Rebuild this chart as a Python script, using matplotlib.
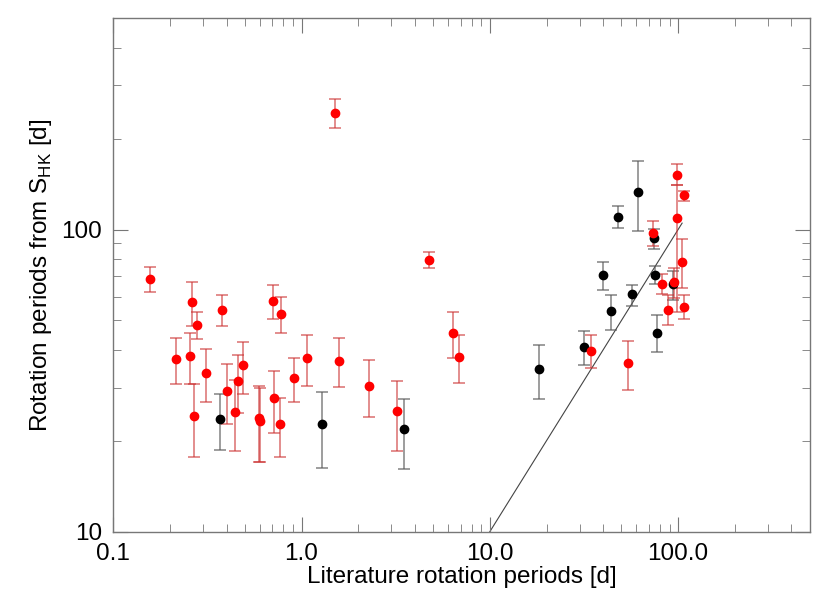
import matplotlib
matplotlib.use("Agg")
import matplotlib.pyplot as plt
import numpy as np
from matplotlib.ticker import FixedLocator, FixedFormatter, NullFormatter

# ---- data ----
red_x = [0.157, 0.263, 0.279, 0.378, 0.708, 0.777, 0.215, 0.257, 0.268, 0.311,
         0.403, 0.458, 0.443, 0.490, 0.592, 0.601, 0.714, 0.765, 0.915, 1.072,
         1.58, 2.28, 1.50, 3.21, 4.77, 6.39, 6.83, 34.3, 53.9, 73.8,
         98.2, 107.0, 98.2, 104.4, 107.4, 88.3, 81.7, 94.6]
red_y = [68.7, 57.5, 48.2, 54.3, 58.0, 52.7, 37.3, 38.1, 24.2, 33.5,
         29.2, 31.6, 24.9, 35.6, 23.7, 23.3, 27.6, 22.7, 32.2, 37.6,
         36.8, 30.4, 243.0, 25.0, 79.4, 45.5, 37.9, 39.7, 36.1, 97.3,
         151.8, 129.6, 109.3, 78.2, 55.6, 54.3, 66.2, 66.9]
red_lo = [62.2, 48.1, 43.3, 47.9, 50.7, 45.4, 30.8, 30.7, 17.7, 26.8,
          22.8, 24.7, 18.5, 28.6, 17.0, 17.0, 21.2, 17.7, 26.8, 30.4,
          30.2, 24.0, 217.0, 18.5, 74.3, 37.5, 31.0, 34.8, 29.5, 88.3,
          139.9, 124.7, 53.5, 64.0, 50.6, 48.2, 61.1, 59.3]
red_hi = [75.0, 67.0, 53.3, 60.9, 65.5, 60.0, 43.9, 45.5, 30.7, 40.2,
          35.8, 38.4, 31.7, 42.4, 30.3, 29.8, 34.0, 27.7, 37.7, 44.8,
          43.6, 36.9, 270.0, 31.6, 84.3, 53.5, 44.9, 44.7, 42.7, 106.7,
          164.7, 134.3, 139.9, 92.7, 60.6, 60.6, 71.2, 74.6]

blk_x = [0.369, 1.283, 3.48, 18.2, 31.5, 39.9, 43.8, 47.9, 57.0, 61.4,
         74.4, 75.0, 77.4, 93.5]
blk_y = [23.6, 22.7, 21.8, 34.5, 41.0, 70.8, 53.7, 110.4, 61.0, 133.4,
         93.9, 70.8, 45.6, 65.8]
blk_lo = [18.6, 16.2, 16.1, 27.4, 35.6, 63.1, 46.6, 101.0, 56.0, 99.2,
          86.5, 66.1, 39.2, 58.5]
blk_hi = [28.6, 29.1, 27.4, 41.4, 46.2, 78.2, 60.6, 119.8, 65.6, 168.0,
          100.3, 75.8, 52.1, 73.0]

line_x = [10.0, 105.0]
line_y = [10.0, 105.0]

x_ticks = [0.1, 1.0, 10.0, 100.0]
x_ticklabels = ["0.1", "1.0", "10.0", "100.0"]
y_ticks = [10, 100]
y_ticklabels = ["10", "100"]

# ---- plot ----
plt.rcParams['font.family'] = ['Liberation Sans', 'DejaVu Sans']
plt.rcParams['mathtext.fontset'] = 'custom'
plt.rcParams['mathtext.rm'] = 'Liberation Sans'

fig = plt.figure(figsize=(8.31, 6.10), dpi=100)
ax = fig.add_axes([0.1363, 0.1284, 0.9744 - 0.1363, 0.970 - 0.1284])
ax.set_xscale('log')
ax.set_yscale('log')
ax.set_xlim(0.1, 500)
ax.set_ylim(10, 500)

ax.plot(line_x, line_y, color='#444444', lw=0.8, zorder=1)

def draw(xs, ys, lo, hi, mcol, ecol):
    xs = np.array(xs); ys = np.array(ys)
    yerr = np.vstack([ys - np.array(lo), np.array(hi) - ys])
    ax.errorbar(xs, ys, yerr=yerr, fmt='o', ms=6, mfc=mcol, mec=mcol,
                ecolor=ecol, elinewidth=1.1, capsize=4, capthick=1.1, zorder=3)

draw(blk_x, blk_y, blk_lo, blk_hi, 'black', (0.35, 0.35, 0.35, 0.75))
draw(red_x, red_y, red_lo, red_hi, '#ff0000', (0.8, 0.2, 0.2, 0.7))

for sp in ax.spines.values():
    sp.set_color('#777777')
    sp.set_linewidth(1.0)

ax.xaxis.set_major_locator(FixedLocator(x_ticks))
ax.xaxis.set_major_formatter(FixedFormatter(x_ticklabels))
ax.yaxis.set_major_locator(FixedLocator(y_ticks))
ax.yaxis.set_major_formatter(FixedFormatter(y_ticklabels))
ax.xaxis.set_minor_formatter(NullFormatter())
ax.yaxis.set_minor_formatter(NullFormatter())

ax.tick_params(which='both', direction='in', top=True, right=True,
               color='#777777', labelsize=17.5, pad=8)
ax.tick_params(which='major', length=11)
ax.tick_params(which='minor', length=5.5)

ax.set_xlabel('Literature rotation periods [d]', fontsize=17.5, labelpad=1)
ax.set_ylabel(r'Rotation periods from S$_{\mathrm{HK}}$ [d]', fontsize=17.5, labelpad=5)

fig.savefig('out.png', dpi=100)
